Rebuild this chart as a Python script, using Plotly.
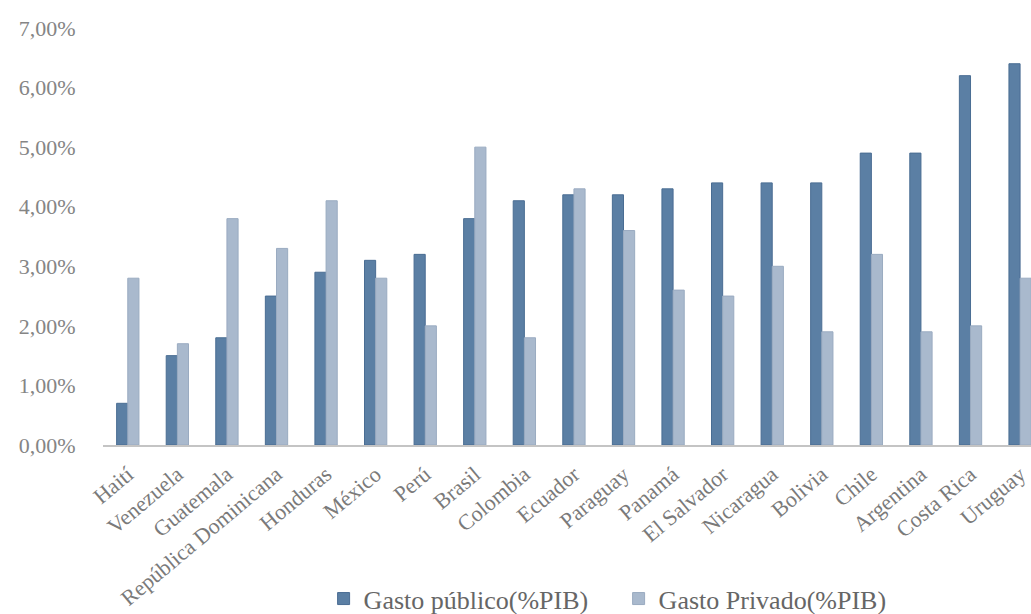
import plotly.graph_objects as go

paises = ["Haití", "Venezuela", "Guatemala", "República Dominicana", "Honduras",
          "México", "Perú", "Brasil", "Colombia", "Ecuador", "Paraguay", "Panamá",
          "El Salvador", "Nicaragua", "Bolivia", "Chile", "Argentina", "Costa Rica",
          "Uruguay"]
gasto_publico = [0.7, 1.5, 1.8, 2.5, 2.9, 3.1, 3.2, 3.8, 4.1, 4.2, 4.2, 4.3,
                 4.4, 4.4, 4.4, 4.9, 4.9, 6.2, 6.4]
gasto_privado = [2.8, 1.7, 3.8, 3.3, 4.1, 2.8, 2.0, 5.0, 1.8, 4.3, 3.6, 2.6,
                 2.5, 3.0, 1.9, 3.2, 1.9, 2.0, 2.8]
y_ticks = [0, 1, 2, 3, 4, 5, 6, 7]
y_tick_text = ["0,00%", "1,00%", "2,00%", "3,00%", "4,00%", "5,00%", "6,00%", "7,00%"]

serif = "Liberation Serif, Times New Roman, serif"

fig = go.Figure()
fig.add_trace(go.Bar(
    x=paises, y=gasto_publico, name="Gasto público(%PIB)",
    marker=dict(color="#5b7fa4", line=dict(color="#4a6d93", width=1)),
))
fig.add_trace(go.Bar(
    x=paises, y=gasto_privado, name="Gasto Privado(%PIB)",
    marker=dict(color="#a9b9cd", line=dict(color="#9aabc1", width=1)),
))

fig.update_layout(
    width=1031, height=614,
    margin=dict(l=103, r=0, t=28, b=169),
    paper_bgcolor="white", plot_bgcolor="white",
    barmode="group", bargap=0.55, bargroupgap=0,
    font=dict(family=serif, color="#7a7a7a"),
    showlegend=True,
    legend=dict(orientation="h", xref="container", yref="container",
                x=0.600, xanchor="center", y=0.025, yanchor="middle",
                font=dict(family=serif, size=26, color="#666666"),
                itemwidth=30, entrywidth=250, traceorder="normal"),
    xaxis=dict(
        type="category", range=[-0.5, 18.22], automargin=False,
        showline=True, linecolor="#c4c4c4", linewidth=2,
        showgrid=False, ticks="", tickangle=-40, ticklabelstandoff=6,
        tickfont=dict(family=serif, size=22, color="#7a7a7a"),
    ),
    yaxis=dict(
        range=[0, 7], tickvals=y_ticks, ticktext=y_tick_text, automargin=False,
        showgrid=False, zeroline=False, showline=False,
        ticks="outside", ticklen=22, tickcolor="rgba(0,0,0,0)",
        tickfont=dict(family=serif, size=22, color="#858585"),
    ),
)

fig.write_html("out.html")
